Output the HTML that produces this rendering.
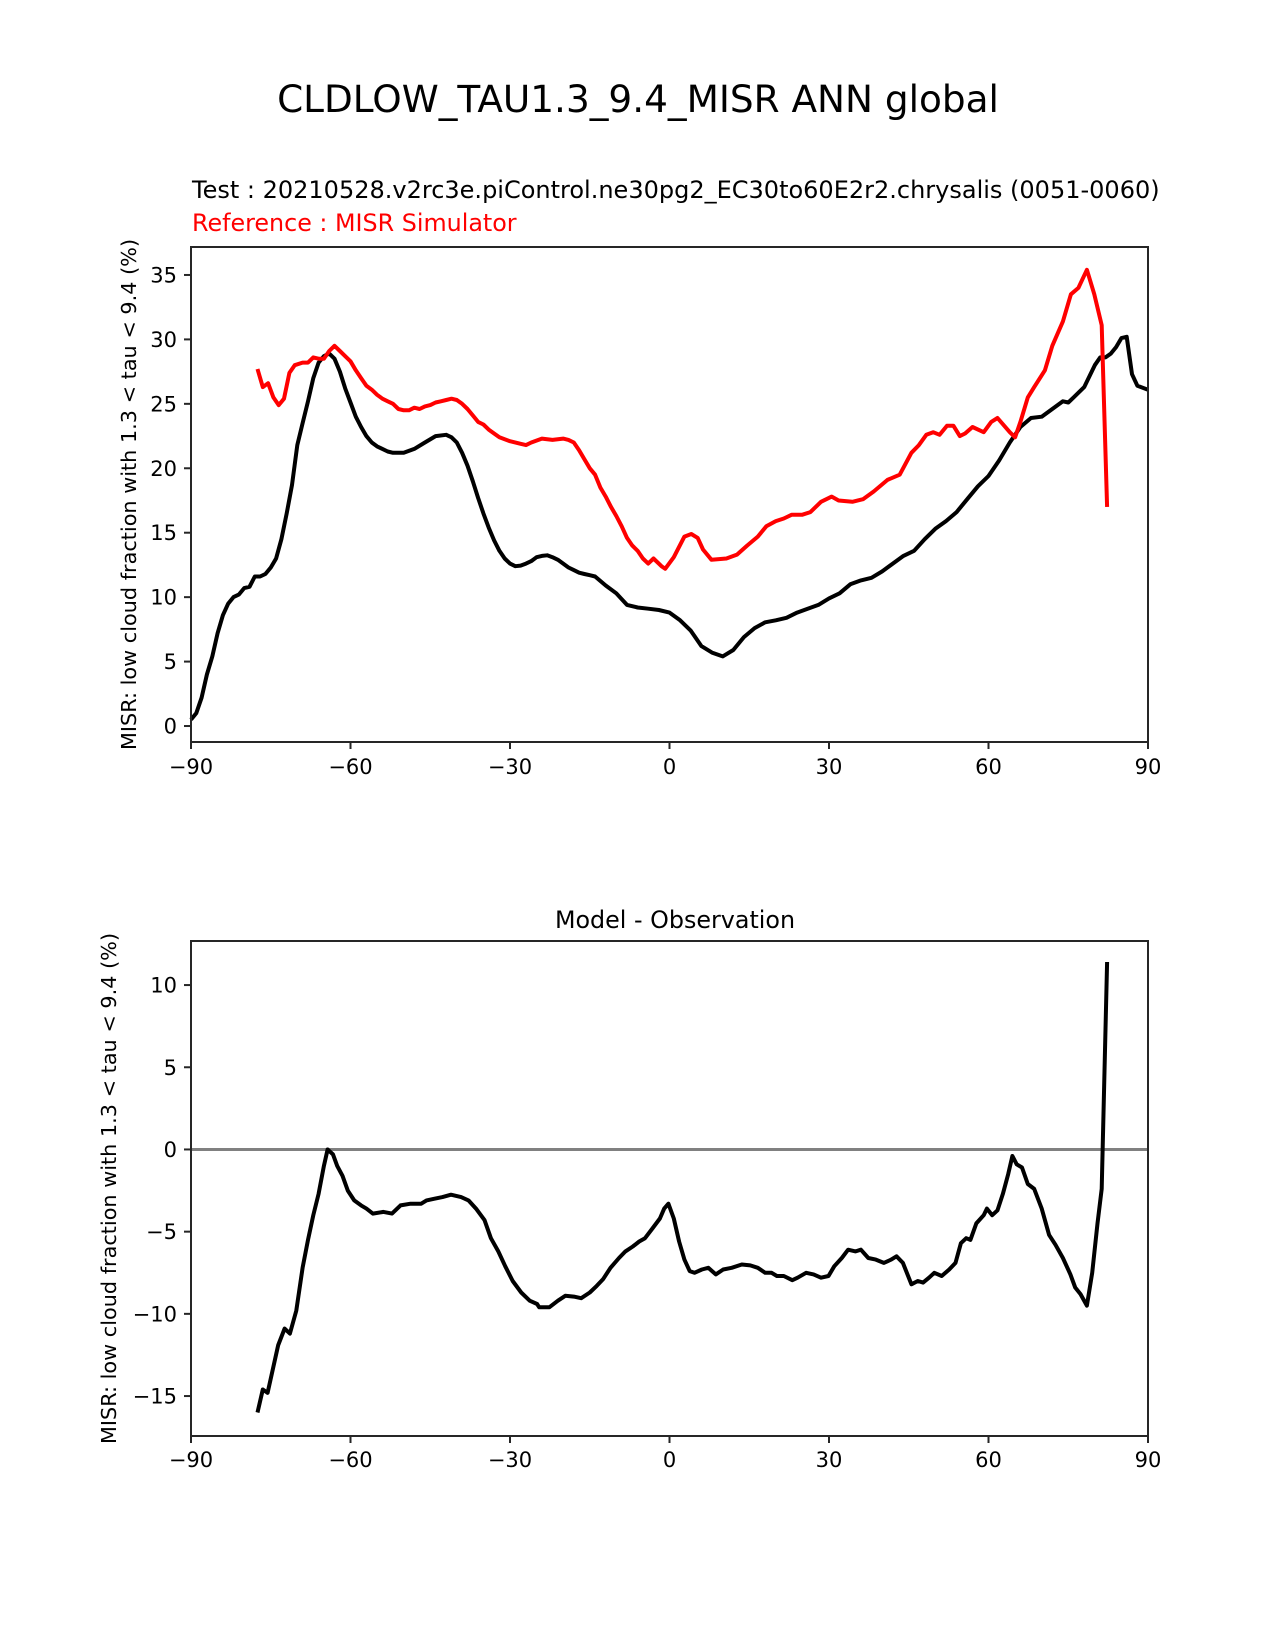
<!DOCTYPE html>
<html><head><meta charset="utf-8"><style>
html,body{margin:0;padding:0;background:#fff;}
svg{display:block;font-family:"DejaVu Sans","Liberation Sans",sans-serif;}
</style></head><body>
<svg id="fig" width="1275" height="1650" viewBox="0 0 1275 1650">
<text x="638" y="112" font-size="37.4" text-anchor="middle">CLDLOW_TAU1.3_9.4_MISR ANN global</text>
<text x="192" y="198" font-size="24">Test : 20210528.v2rc3e.piControl.ne30pg2_EC30to60E2r2.chrysalis (0051-0060)</text>
<text x="192" y="231" font-size="23.8" fill="#ff0000">Reference : MISR Simulator</text>
<text x="675" y="928" font-size="23.8" text-anchor="middle">Model - Observation</text>
<g id="ax1"></g>
<g id="ax2"></g>
</svg>
<script>
const testLat=[-90,-89,-88,-87,-86,-85,-84,-83,-82,-81,-80,-79,-78,-77,-76,-75,-74,-73,-72,-71,-70,-69,-68,-67,-66,-65,-64,-63,-62,-61,-60,-59,-58,-57,-56,-55,-54,-53,-52,-50,-48,-46,-44,-42,-41,-40,-39,-38,-37,-36,-35,-34,-33,-32,-31,-30,-29,-28,-27,-26,-25,-24,-23,-22,-21,-20,-19,-18,-17,-16,-15,-14,-12,-10,-8,-6,-4,-2,0,2,4,6,8,10,12,14,16,18,20,22,24,26,28,30,32,34,36,38,40,42,44,46,48,50,52,54,56,58,60,62,64,66,68,70,72,74,75,76,78,80,81,82,83,84,85,86,87,88,90];
const testVal=[0.5,1.0,2.2,4.0,5.4,7.2,8.6,9.5,10.0,10.2,10.7,10.8,11.6,11.6,11.8,12.3,13.0,14.5,16.5,18.7,21.8,23.5,25.2,27.0,28.2,28.7,28.9,28.5,27.5,26.2,25.1,24.0,23.2,22.5,22.0,21.7,21.5,21.3,21.2,21.2,21.5,22,22.5,22.6,22.4,22,21.2,20.2,19,17.7,16.5,15.4,14.4,13.6,13.0,12.6,12.4,12.45,12.6,12.8,13.1,13.2,13.25,13.1,12.9,12.6,12.3,12.1,11.9,11.8,11.7,11.6,10.9,10.3,9.4,9.2,9.1,9.0,8.8,8.2,7.4,6.2,5.7,5.4,5.9,6.9,7.6,8.05,8.2,8.4,8.8,9.1,9.4,9.9,10.3,11.0,11.3,11.5,12.0,12.6,13.2,13.6,14.5,15.3,15.9,16.6,17.6,18.6,19.4,20.6,22.0,23.2,23.9,24.0,24.6,25.2,25.1,25.5,26.3,28.0,28.6,28.6,28.9,29.4,30.1,30.2,27.3,26.4,26.1];
const refLat=[-77.5,-76.5,-75.5,-74.5,-73.5,-72.5,-71.5,-70.5,-69,-68,-67,-66,-65,-64,-63,-62,-61,-60,-59,-58,-57,-56,-55,-54,-53,-52,-51,-50,-49,-48,-47,-46,-45,-44,-43,-42,-41,-40,-39,-38,-37,-36,-35,-34,-33,-32,-30,-28,-27,-26,-24,-22,-20,-19,-18,-17,-16,-15,-14,-13,-12,-11,-10,-9,-8,-7,-6,-5,-4,-3,-1.5,-0.8,0.8,2.8,4.1,5.3,6.3,7.9,10.7,12.7,14.6,16.6,18.2,20,21.5,23,25,26.5,28.5,30.5,31.8,34.4,36.4,38.4,41,43.3,45.5,46.9,48.3,49.6,50.8,52.2,53.4,54.6,55.6,57,59.1,60.5,61.7,64,65,66,67.4,68.6,70.6,72,74,75.5,76.9,78.5,79.9,81.3,82.3];
const refVal=[27.7,26.3,26.6,25.5,24.9,25.4,27.4,28.0,28.2,28.2,28.6,28.5,28.5,29.1,29.5,29.1,28.7,28.3,27.6,27.0,26.4,26.1,25.7,25.4,25.2,25.0,24.6,24.5,24.5,24.7,24.6,24.8,24.9,25.1,25.2,25.3,25.4,25.3,25.0,24.6,24.1,23.6,23.4,23.0,22.7,22.4,22.1,21.9,21.8,22.0,22.3,22.2,22.3,22.2,22.0,21.4,20.7,20.0,19.5,18.5,17.8,17.0,16.3,15.5,14.6,14.0,13.6,13.0,12.6,13.0,12.4,12.2,13.1,14.7,14.9,14.6,13.7,12.9,13.0,13.3,14.0,14.7,15.5,15.9,16.1,16.4,16.4,16.6,17.4,17.8,17.5,17.4,17.6,18.2,19.1,19.5,21.2,21.8,22.6,22.8,22.6,23.3,23.3,22.5,22.7,23.2,22.8,23.6,23.9,22.8,22.4,23.6,25.5,26.3,27.6,29.5,31.4,33.5,34.0,35.4,33.5,31.1,17.0];
const diffLat=[-77.5,-76.5,-75.6,-73.6,-72.4,-71.4,-70.2,-69,-68,-67,-66,-65,-64.3,-63.3,-62.5,-61.5,-60.5,-59.3,-58,-57,-55.8,-53.8,-52.2,-50.6,-48.7,-46.7,-45.7,-44.3,-42.7,-41.1,-39.2,-37.8,-36.4,-34.8,-33.6,-32.2,-30.9,-29.5,-27.9,-26.3,-24.9,-24.5,-22.6,-21,-19.6,-18,-16.6,-15,-13.7,-12.5,-11.1,-9.5,-8.3,-6.9,-5.7,-4.6,-3.2,-1.8,-1,-0.2,0.8,1.8,2.8,3.8,4.7,6.1,7.3,8.7,10.1,11.7,13.6,15.2,16.6,18,19.2,20.2,21.5,23.1,24.1,25.7,27.1,28.5,29.9,31,32.4,33.6,35,36,37.4,38.8,40.3,41.7,42.7,43.9,45.5,46.7,47.7,48.8,49.8,51.2,52.6,53.8,54.8,55.8,56.6,57.7,59.1,59.7,60.7,61.7,62.7,63.7,64.5,65.3,66.3,67.4,68.6,70,71.4,72.6,74,75.4,76.3,77.3,78.5,79.5,80.5,81.3,82.3];
const diffVal=[-16.0,-14.6,-14.8,-11.9,-10.9,-11.2,-9.8,-7.2,-5.5,-4,-2.7,-1,0,-0.3,-1.0,-1.6,-2.5,-3.1,-3.4,-3.6,-3.9,-3.8,-3.9,-3.4,-3.3,-3.3,-3.1,-3.0,-2.9,-2.75,-2.9,-3.1,-3.6,-4.3,-5.4,-6.2,-7.1,-8.0,-8.7,-9.2,-9.4,-9.6,-9.6,-9.2,-8.9,-8.95,-9.05,-8.7,-8.3,-7.9,-7.2,-6.6,-6.2,-5.9,-5.6,-5.4,-4.8,-4.2,-3.6,-3.3,-4.2,-5.6,-6.7,-7.4,-7.5,-7.3,-7.2,-7.6,-7.3,-7.2,-7.0,-7.05,-7.2,-7.5,-7.5,-7.7,-7.7,-7.95,-7.8,-7.5,-7.6,-7.8,-7.7,-7.1,-6.6,-6.1,-6.2,-6.1,-6.6,-6.7,-6.9,-6.7,-6.5,-6.9,-8.2,-8.0,-8.1,-7.8,-7.5,-7.7,-7.3,-6.9,-5.7,-5.4,-5.5,-4.5,-4.0,-3.6,-4.0,-3.7,-2.7,-1.5,-0.4,-0.9,-1.1,-2.1,-2.4,-3.6,-5.2,-5.8,-6.6,-7.6,-8.4,-8.8,-9.5,-7.5,-4.5,-2.4,11.4];
const xTicks=[-90,-60,-30,0,30,60,90];
const xTickLabels=["\u221290","\u221260","\u221230","0","30","60","90"];
const yTicks1=[0,5,10,15,20,25,30,35];
const yTicks2=[-15,-10,-5,0,5,10];
const yTickLabels2=["\u221215","\u221210","\u22125","0","5","10"];

const NS="http://www.w3.org/2000/svg";
function mk(tag,attrs,parent){const e=document.createElementNS(NS,tag);for(const k in attrs)e.setAttribute(k,attrs[k]);parent.appendChild(e);return e;}

function axes(g,box,ylo,yhi,yt,ytl,xlabBase,ylabX,series,zero){
  const sx=v=>box.x0+(v+90)/180*(box.x1-box.x0);
  const sy=v=>box.y1-(v-ylo)/(yhi-ylo)*(box.y1-box.y0);
  if(zero){
    const z=mk('line',{x1:box.x0,x2:box.x1,y1:sy(0),y2:sy(0),stroke:'#808080','stroke-width':3},g);
    
    
  }
  series.forEach(s=>{
    const p=mk('polyline',{points:s.lat.map((l,i)=>sx(l).toFixed(1)+','+sy(s.val[i]).toFixed(1)).join(' '),fill:'none',stroke:s.color,'stroke-width':4,'stroke-linejoin':'round'},g);
    
    
  });
  const fr=mk('rect',{x:box.x0,y:box.y0,width:box.x1-box.x0,height:box.y1-box.y0,fill:'none',stroke:'#262626','stroke-width':2},g);
  
  
  xTicks.forEach((t,i)=>{
    const x=sx(t);
    mk('line',{x1:x,x2:x,y1:box.y1,y2:box.y1+7,stroke:'#262626','stroke-width':2},g);
    const tx=mk('text',{x:x,y:xlabBase,'font-size':21,'text-anchor':'middle'},g);
    tx.textContent=xTickLabels[i];
    
    
  });
  yt.forEach((t,i)=>{
    const y=sy(t);
    mk('line',{x1:box.x0-7,x2:box.x0,y1:y,y2:y,stroke:'#262626','stroke-width':2},g);
    const tx=mk('text',{x:box.x0-14,y:y+7.5,'font-size':21,'text-anchor':'end'},g);
    tx.textContent=ytl?ytl[i]:String(t);
    
    
  });
  const cy=(box.y0+box.y1)/2;
  const yl=mk('text',{x:ylabX,y:cy,'font-size':20.8,'text-anchor':'middle',transform:`rotate(-90 ${ylabX} ${cy})`},g);
  yl.textContent='MISR: low cloud fraction with 1.3 < tau < 9.4 (%)';
  
  
}
axes(document.getElementById('ax1'),{x0:191,x1:1148,y0:247,y1:742},-1.24,37.17,yTicks1,null,774,136,
 [{lat:testLat,val:testVal,color:'#000',name:'test-line'},{lat:refLat,val:refVal,color:'#ff0000',name:'reference-line'}],false);
axes(document.getElementById('ax2'),{x0:191,x1:1148,y0:941,y1:1436},-17.43,12.68,yTicks2,yTickLabels2,1467,116,
 [{lat:diffLat,val:diffVal,color:'#000',name:'difference-line'}],true);
</script>
</body></html>
